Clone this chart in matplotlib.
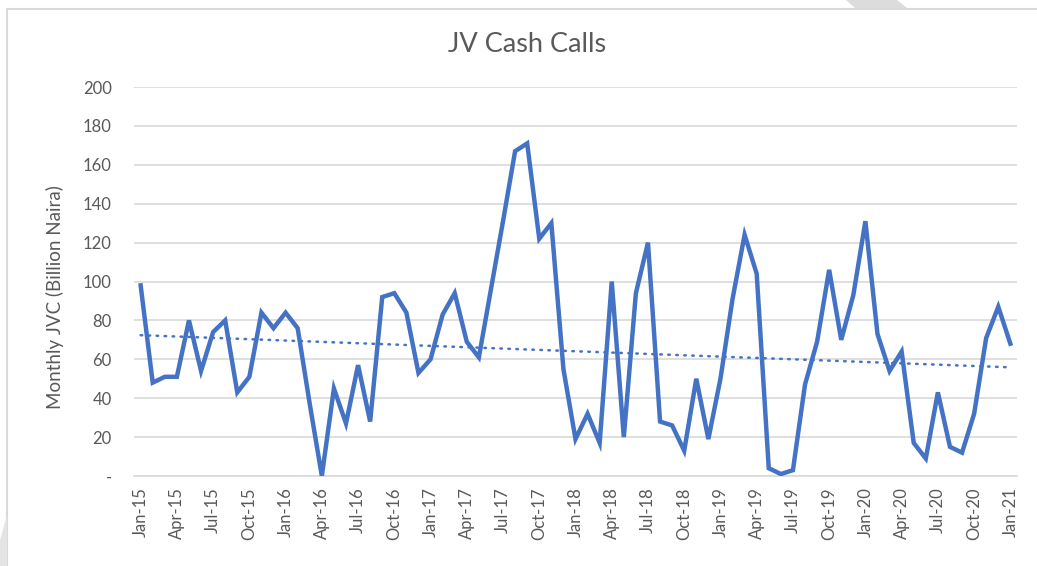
import numpy as np
import matplotlib.pyplot as plt
from matplotlib.patches import Rectangle, Polygon

plt.rcParams['font.family'] = ['Lato', 'DejaVu Sans']

# monthly JV cash calls, Jan-15 .. Jan-21 (billion naira)
cash_calls = [
    98, 48, 51, 51, 80, 54, 74, 80, 43, 51, 84, 76,      # 2015
    84, 76, 37, 0, 45, 27, 57, 28, 92, 94, 84, 53,       # 2016
    60, 83, 94, 69, 61, 96, 131, 167, 171, 122, 130, 55, # 2017
    19, 32, 17, 100, 20, 94, 120, 28, 26, 13, 50, 19,    # 2018
    50, 91, 124, 104, 4, 1, 3, 47, 69, 106, 70, 93,      # 2019
    131, 73, 54, 64, 17, 9, 43, 15, 12, 32, 71, 87,      # 2020
    68,                                                  # Jan-21
]
tick_labels = [
    "Jan-15", "Apr-15", "Jul-15", "Oct-15", "Jan-16", "Apr-16", "Jul-16", "Oct-16",
    "Jan-17", "Apr-17", "Jul-17", "Oct-17", "Jan-18", "Apr-18", "Jul-18", "Oct-18",
    "Jan-19", "Apr-19", "Jul-19", "Oct-19", "Jan-20", "Apr-20", "Jul-20", "Oct-20",
    "Jan-21",
]
y_ticks = [0, 20, 40, 60, 80, 100, 120, 140, 160, 180, 200]

W, H = 1037, 566
fig = plt.figure(figsize=(W / 100, H / 100), dpi=100)
ax = fig.add_axes([134 / W, 1 - 476 / H, (1017 - 134) / W, (476 - 87) / H])

x = np.arange(len(cash_calls))
vals = np.array(cash_calls, dtype=float)

ax.plot(x, vals, color="#4472C4", lw=3.2, solid_joinstyle="miter", zorder=3)

# linear trend
slope, icpt = np.polyfit(x, vals, 1)
ax.plot(x, slope * x + icpt, color="#4472C4", lw=1.8, linestyle=(0, (0.6, 2.6)),
        dash_capstyle="round", zorder=2)

ax.set_xlim(-0.55, len(cash_calls) - 0.45)
ax.set_ylim(0, 200)
ax.set_yticks(y_ticks)
ax.set_yticklabels(["-"] + [str(v) for v in y_ticks[1:]])
ax.set_xticks(x[::3])
ax.set_xticklabels(tick_labels, rotation=90)

ax.grid(axis="y", color="#d9d9d9", lw=1.2)
ax.set_axisbelow(True)
for s in ["top", "right", "left"]:
    ax.spines[s].set_visible(False)
ax.spines["bottom"].set_color("#d9d9d9")
ax.spines["bottom"].set_linewidth(1.2)
ax.tick_params(axis="both", length=0, colors="#595959", labelsize=12)
ax.tick_params(axis="y", pad=16)
ax.tick_params(axis="x", pad=8)

fig.text(527 / W, 1 - 45 / H, "JV Cash Calls", ha="center", va="center",
         fontsize=19.5, color="#595959")
fig.text(55 / W, 1 - 297 / H, "Monthly JVC (Billion Naira)", rotation=90,
         ha="center", va="center", fontsize=13.5, color="#595959")

# chart border and page shapes
fig.patches.append(Rectangle((7 / W, -0.1), 1.2, 1 - 9 / H + 0.1, transform=fig.transFigure,
                             fill=False, edgecolor="#d9d9d9", lw=1.5))
fig.patches.append(Polygon([(846 / W, 1), (897 / W, 1), (907 / W, 1 - 8 / H), (855 / W, 1 - 8 / H)],
                           closed=True, transform=fig.transFigure, facecolor="#dcdcdc",
                           edgecolor="none"))
fig.patches.append(Polygon([(0, 0), (7 / W, 0), (7 / W, 1 - 515 / H), (0, 1 - 540 / H)],
                           closed=True, transform=fig.transFigure, facecolor="#e4e4e4",
                           edgecolor="none"))

fig.savefig("out.png", dpi=100)
